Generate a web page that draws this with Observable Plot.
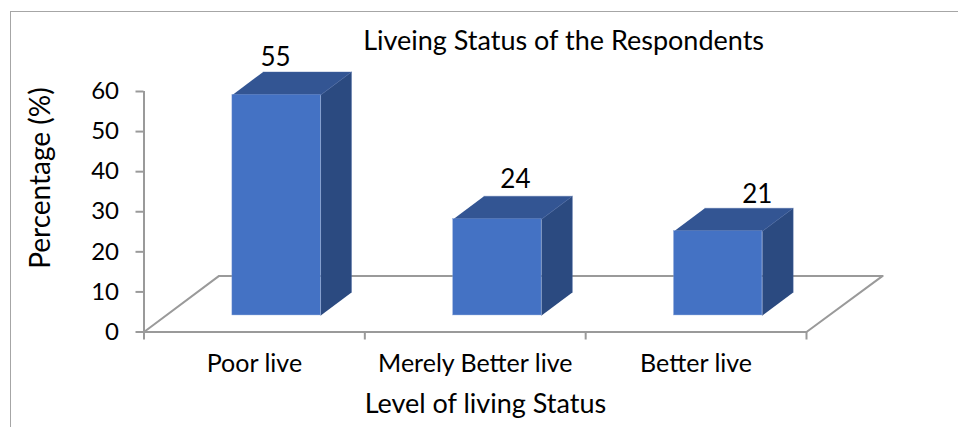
<!DOCTYPE html>
<html>
<head>
<meta charset="utf-8">
<script src="https://cdn.jsdelivr.net/npm/d3@7"></script>
<script src="https://cdn.jsdelivr.net/npm/@observablehq/plot@0.6"></script>
<style>
  html, body { margin: 0; padding: 0; background: #fff; width: 958px; height: 427px; overflow: hidden; }
  #frame { position: absolute; left: 10px; top: 11px; width: 948px; height: 416px; box-sizing: border-box;
           border-top: 1.5px solid #a6a6a6; border-left: 1.5px solid #a6a6a6; }
  #chart { position: absolute; left: 0; top: 0; }
</style>
</head>
<body>
<div id="frame"></div>
<div id="chart"></div>
<script>
const categories = ["Poor live", "Merely Better live", "Better live"];
const values = [55, 24, 21];
const yTicks = [0, 10, 20, 30, 40, 50, 60];
const xBoundaries = [0, 1, 2, 3];

// Oblique projection of the 3D plot box, in scale units
const depthX = 0.34, depthY = 14;
const barStart = 0.295, barEnd = 0.705, barLeft = 0.3, barRight = 0.7;
const px = (c, d) => c + depthX * d;
const py = (v, d) => v + depthY * d;

const poly = (id, pts) => pts.map(([c, v, d]) => ({id, x: px(c, d), y: py(v, d)}));

const fronts = categories.map((name, i) => ({
  x1: px(i + barLeft, barStart), x2: px(i + barRight, barStart),
  y1: py(0, barStart), y2: py(values[i], barStart)
}));
const tops = categories.flatMap((name, i) => poly("t" + i, [
  [i + barLeft, values[i], barStart], [i + barRight, values[i], barStart],
  [i + barRight, values[i], barEnd], [i + barLeft, values[i], barEnd]
]));
const sides = categories.flatMap((name, i) => poly("s" + i, [
  [i + barRight, 0, barStart], [i + barRight, values[i], barStart],
  [i + barRight, values[i], barEnd], [i + barRight, 0, barEnd]
]));
const floor = poly("floor", [[0, 0, 0], [0, 0, 1], [3.005, 0, 1], [3, 0, 0], [0, 0, 0]]);

const labelShifts = [{dx: -1, dy: -6}, {dx: 18, dy: -8}, {dx: 39, dy: -5}];
const font = "Lato, 'Open Sans', sans-serif";
const gray = "#9a9a9a";

const valueLabels = categories.map((name, i) => Plot.text([values[i]], {
  x: () => px(i + 0.5, barStart),
  y: d => py(d, barEnd),
  text: d => String(d),
  fontSize: 26, fill: "#000", lineAnchor: "bottom",
  dx: labelShifts[i].dx, dy: labelShifts[i].dy
}));

const plot = Plot.plot({
  width: 958, height: 427,
  marginLeft: 143.5, marginRight: 152, marginTop: 91, marginBottom: 95.5,
  style: {background: "transparent", fontFamily: font, overflow: "visible"},
  x: {domain: [0, 3], axis: null},
  y: {domain: [0, 60], axis: null},
  marks: [
    Plot.line(floor, {x: "x", y: "y", stroke: gray, strokeWidth: 2}),
    Plot.ruleX([0], {y1: 0, y2: 60, stroke: gray, strokeWidth: 2}),
    Plot.axisY({ticks: yTicks, tickSize: 8, tickPadding: 17, stroke: gray, strokeWidth: 2,
                fill: "#000", label: null, fontSize: 24}),
    Plot.axisX({ticks: xBoundaries, tickSize: 8, tickFormat: () => "", stroke: gray, strokeWidth: 2, label: null}),
    Plot.axisX({ticks: categories.map((_, i) => i + 0.5), tickSize: 0, tickPadding: 22,
                tickFormat: d => categories[d - 0.5], fill: "#000", label: null, fontSize: 25}),
    Plot.line(tops, {x: "x", y: "y", z: "id", fill: "#335593", stroke: "#4a68a3", strokeWidth: 0.4}),
    Plot.line(sides, {x: "x", y: "y", z: "id", fill: "#2b4a80", stroke: "#4a68a3", strokeWidth: 0.4}),
    Plot.rect(fronts, {x1: "x1", x2: "x2", y1: "y1", y2: "y2", fill: "#4472c4", stroke: "#7f9dd6", strokeWidth: 0.4}),
    ...valueLabels,
    Plot.text(["Liveing Status of the Respondents"], {x: 1.9, y: 72.4, text: d => d, fontSize: 27, fill: "#000"}),
    Plot.text(["Level of living Status"], {x: 1.546, y: -18.1, text: d => d, fontSize: 27, fill: "#000"}),
    Plot.text(["Percentage (%)"], {x: -0.468, y: 38.4, text: d => d, rotate: -90, fontSize: 28, fill: "#000"})
  ]
});
document.getElementById("chart").appendChild(plot);
</script>
</body>
</html>
